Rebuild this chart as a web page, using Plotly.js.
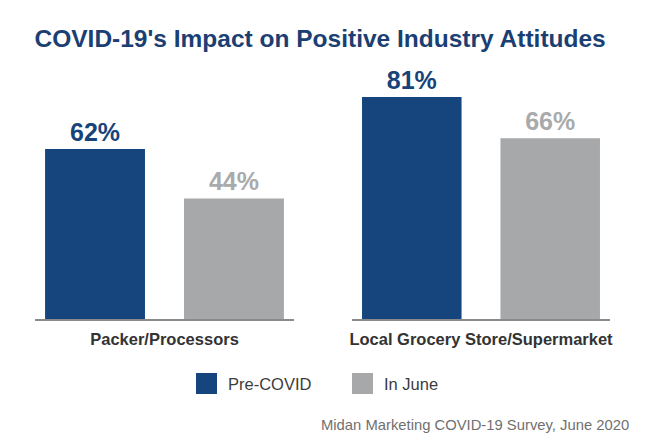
<!DOCTYPE html>
<html>
<head>
<meta charset="utf-8">
<script src="https://cdn.plot.ly/plotly-3.0.1.min.js"></script>
<style>
html,body{margin:0;padding:0;background:#fff;}
#chart{width:648px;height:445px;}
</style>
</head>
<body>
<div id="chart"></div>
<script>
// ---- data ----
const categories = ['Packer/Processors', 'Local Grocery Store/Supermarket'];
const seriesNames = ['Pre-COVID', 'In June'];
const preCovid = [62, 81];
const inJune = [44, 66];
const sourceText = 'Midan Marketing COVID-19 Survey, June 2020';
const titleText = "COVID-19's Impact on Positive Industry Attitudes";

// ---- styles ----
const FONT = 'Liberation Sans, Arial, sans-serif';
const barColors = ['#15457c', '#a7a8aa'];
const labelColors = ['#17437a', '#a9aaac'];
const seriesValues = [preCovid, inJune];
const W = 648, H = 445;

const axisKeys = ['x', 'x2'];
const traces = [];
categories.forEach((cat, ci) => {
  seriesValues.forEach((vals, si) => {
    traces.push({
      type: 'bar',
      name: seriesNames[si],
      x: [cat],
      y: [vals[ci]],
      xaxis: axisKeys[ci],
      yaxis: 'y',
      marker: {color: barColors[si], line: {width: 0}},
      text: [vals[ci] + '%'],
      textposition: 'outside',
      textfont: {family: FONT, size: 25, weight: 'bold', color: labelColors[si]},
      cliponaxis: false,
      showlegend: false,
      hoverinfo: 'none'
    });
  });
});

function px(x) { return x / W; }
function py(y) { return 1 - y / H; }

const xCommon = {
  type: 'category',
  range: [-0.466, 0.466],
  showgrid: false,
  zeroline: false,
  showline: true,
  linecolor: '#8a8a8a',
  linewidth: 1.5,
  ticks: '',
  ticklabelstandoff: 5,
  tickfont: {family: FONT, size: 16.5, weight: 'bold', color: '#333333'},
  fixedrange: true,
  anchor: 'y'
};

const shapes = [];
const annotations = [];
const legendX = [196, 352];
seriesNames.forEach((n, si) => {
  shapes.push({
    type: 'rect', xref: 'paper', yref: 'paper',
    x0: px(legendX[si]), x1: px(legendX[si] + 21),
    y0: py(394), y1: py(373),
    fillcolor: barColors[si], line: {width: 0}
  });
  annotations.push({
    xref: 'paper', yref: 'paper',
    x: px(legendX[si] + 30), y: py(384),
    xanchor: 'left', yanchor: 'middle',
    text: n, showarrow: false,
    font: {family: FONT, size: 16.5, color: '#3c3c3c'}
  });
});
annotations.push({
  xref: 'paper', yref: 'paper',
  x: px(631), y: py(425),
  xanchor: 'right', yanchor: 'middle',
  text: sourceText, showarrow: false,
  font: {family: FONT, size: 14.8, color: '#707070'}
});

const layout = {
  width: W, height: H,
  margin: {l: 0, r: 0, t: 0, b: 0},
  paper_bgcolor: '#ffffff',
  plot_bgcolor: 'rgba(0,0,0,0)',
  title: {
    text: titleText,
    x: 0.494, xref: 'paper', xanchor: 'center',
    y: py(38), yref: 'paper', yanchor: 'middle',
    font: {family: FONT, size: 24.5, weight: 'bold', color: '#1b3f73'}
  },
  barmode: 'group',
  bargap: 0,
  bargroupgap: 0.281,
  xaxis: Object.assign({}, xCommon, {domain: [px(35), px(294)]}),
  xaxis2: Object.assign({}, xCommon, {domain: [px(352), px(610)]}),
  yaxis: {
    range: [0, 100],
    domain: [py(319), py(45)],
    visible: false,
    fixedrange: true
  },
  showlegend: false,
  shapes: shapes,
  annotations: annotations
};

Plotly.newPlot('chart', traces, layout, {staticPlot: true, displayModeBar: false});
</script>
</body>
</html>
